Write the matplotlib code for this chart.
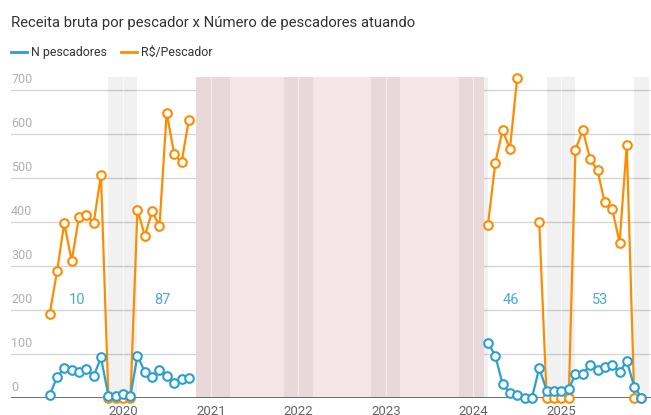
import matplotlib
matplotlib.use('Agg')
import matplotlib.pyplot as plt
import matplotlib.dates as mdates
from matplotlib.lines import Line2D
from matplotlib.transforms import ScaledTranslation
import numpy as np
import pandas as pd

plt.rcParams['font.family'] = ['Roboto', 'DejaVu Sans']

nan = np.nan

# two periods with data (monthly)
months_a = pd.date_range('2019-03-01', '2020-10-01', freq='MS')
months_b = pd.date_range('2024-03-01', '2025-12-01', freq='MS')

n_pescadores_a = [7, 47, 68, 64, 59, 66, 50, 92, 5, 5, 9, 5, 96, 59, 47, 64, 51, 34, 44, 45]
receita_a = [190, 288, 397, 311, 410, 415, 398, 507, 0, 0, 0, 0, 428, 368, 424, 391, 648, 555, 535, 631]

n_pescadores_b = [126, 96, 32, 11, 7, 1, 1, 68, 17, 15, 15, 20, 55, 55, 75, 64, 70, 74, 59, 84, 26, 1]
receita_b = [392, 534, 608, 566, 726, nan, nan, 400, 0, 0, 0, 0, 564, 608, 543, 517, 444, 430, 353, 575, 0, 0]

# closed season bands (gray) and period without data (pink)
defeso_inicio = ['2019-11-01', '2020-11-01', '2021-11-01', '2022-11-01', '2023-11-01', '2024-11-01', '2025-11-01']
defeso_fim = ['2020-03-01', '2021-03-23', '2022-03-01', '2023-03-01', '2024-03-01', '2025-03-01', '2026-01-01']
sem_dados = ('2020-11-01', '2024-02-15')

# annotations
anot_texto = ['10', '87', '46', '53']
anot_data = ['2019-06-25', '2020-06-15', '2024-06-03', '2025-06-12']
anot_y = 222

anos = ['2020', '2021', '2022', '2023', '2024', '2025']
y_ticks = [0, 100, 200, 300, 400, 500, 600, 700]

AZUL = '#2a9fd0'
LARANJA = '#ff8c00'

fig = plt.figure(figsize=(6.51, 4.15), dpi=100)
ax = fig.add_axes([11 / 651, 17 / 415, 640 / 651, 321 / 415])

ax.set_xlim(pd.Timestamp('2018-09-21'), pd.Timestamp('2026-01-10'))
ax.set_ylim(0, 729)

# shading
ax.axvspan(pd.Timestamp(sem_dados[0]), pd.Timestamp(sem_dados[1]),
           color='#f6e5e6', lw=0, zorder=1)
for ini, fim in zip(defeso_inicio, defeso_fim):
    ax.axvspan(pd.Timestamp(ini), pd.Timestamp(fim), color='black', alpha=0.055, lw=0, zorder=1.1)

# grid
for v in y_ticks[1:]:
    ax.axhline(v, color='#d6d6d6', lw=1, zorder=0.5)
for a in anos:
    ax.axvline(pd.Timestamp(a + '-01-01'), color='white', lw=0.8, alpha=0.5, zorder=1.2)
ax.axhline(0, color='#555555', lw=1.2, zorder=2)

mk = dict(marker='o', markersize=6.2, markerfacecolor='white', markeredgewidth=1.5,
          lw=1.6, clip_on=False)
for meses, n, r in [(months_a, n_pescadores_a, receita_a), (months_b, n_pescadores_b, receita_b)]:
    ax.plot(meses, r, color=LARANJA, markeredgecolor=LARANJA, zorder=3, **mk)
    ax.plot(meses, n, color=AZUL, markeredgecolor=AZUL, zorder=4, **mk)

for t, d in zip(anot_texto, anot_data):
    ax.text(pd.Timestamp(d), anot_y, t, color='#4aaad4', fontsize=10.5,
            ha='center', va='center', zorder=5)

for s in ax.spines.values():
    s.set_visible(False)

ax.set_xticks([pd.Timestamp(a + '-01-01') for a in anos])
ax.set_xticklabels(anos)
ax.tick_params(axis='x', length=0, pad=5, labelsize=9.5, labelcolor='#666666')

ax.set_yticks(y_ticks)
ax.set_yticklabels([str(v) for v in y_ticks])
ax.tick_params(axis='y', length=0, pad=0, labelsize=9, labelcolor='#b0b0b0')
for lab in ax.get_yticklabels():
    lab.set_horizontalalignment('left')
    lab.set_verticalalignment('bottom')
    lab.set_transform(lab.get_transform() + ScaledTranslation(0, 3 / 72, fig.dpi_scale_trans))

fig.text(11 / 651, 1 - 23 / 415, 'Receita bruta por pescador x Número de pescadores atuando',
         fontsize=10.7, color='#333333', va='center', ha='left')

handles = [Line2D([], [], color=AZUL, lw=2), Line2D([], [], color=LARANJA, lw=2)]
fig.legend(handles, ['N pescadores', 'R$/Pescador'], loc='center left',
           bbox_to_anchor=(11 / 651, 1 - 52.5 / 415), ncol=2, frameon=False,
           fontsize=8.9, handlelength=1.3, handletextpad=0.35, columnspacing=1.1,
           borderaxespad=0, borderpad=0, labelcolor='#333333')

fig.savefig('out.png', dpi=100)
